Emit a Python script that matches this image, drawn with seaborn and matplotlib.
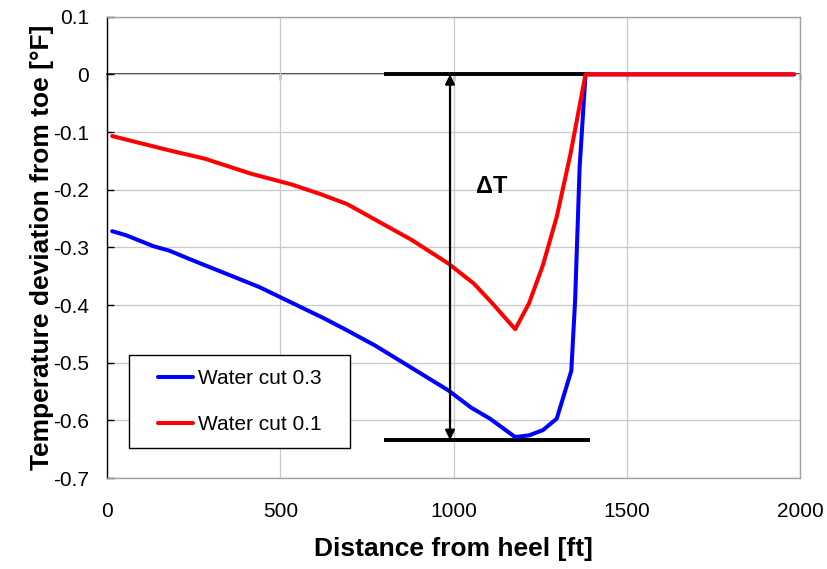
import numpy as np
import pandas as pd
import matplotlib
matplotlib.use("Agg")
import matplotlib.pyplot as plt
import matplotlib.patches as mpatches
import seaborn as sns

# ---- data ----
dist_wc03 = [15, 55, 134, 181, 241, 374, 440, 533, 626, 693, 773, 852, 985, 1051,
             1105, 1178, 1218, 1258, 1298, 1340, 1351, 1364, 1381, 1983]
temp_wc03 = [-0.272, -0.279, -0.298, -0.306, -0.321, -0.353, -0.369, -0.396, -0.423,
             -0.444, -0.470, -0.499, -0.548, -0.578, -0.597, -0.629, -0.626, -0.617,
             -0.597, -0.514, -0.392, -0.161, 0.0, 0.0]
dist_wc01 = [15, 101, 181, 281, 414, 533, 613, 693, 786, 879, 985, 1059, 1112, 1178,
             1218, 1258, 1298, 1338, 1381, 1983]
temp_wc01 = [-0.107, -0.120, -0.132, -0.146, -0.172, -0.191, -0.207, -0.225, -0.256,
             -0.287, -0.328, -0.363, -0.397, -0.442, -0.397, -0.331, -0.247, -0.137,
             0.0, 0.0]
series_labels = ["Water cut 0.3", "Water cut 0.1"]
series_colors = ["#0000FF", "#FF0000"]

# Delta T annotation values
dT_x_range = [799, 1395]
dT_top = 0.0
dT_bottom = -0.634
dT_arrow_x = 990
dT_label = "ΔT"
dT_label_pos = (1111, -0.194)

x_ticks = [0, 500, 1000, 1500, 2000]
y_ticks = [0.1, 0, -0.1, -0.2, -0.3, -0.4, -0.5, -0.6, -0.7]
y_tick_labels = ["0.1", "0", "-0.1", "-0.2", "-0.3", "-0.4", "-0.5", "-0.6", "-0.7"]

df = pd.concat([
    pd.DataFrame({"dist": dist_wc03, "temp": temp_wc03, "series": series_labels[0]}),
    pd.DataFrame({"dist": dist_wc01, "temp": temp_wc01, "series": series_labels[1]}),
], ignore_index=True)

sns.set_theme(style="white")
plt.rcParams["font.family"] = ["Liberation Sans", "DejaVu Sans"]
plt.rcParams["text.color"] = "black"
plt.rcParams["axes.labelcolor"] = "black"
plt.rcParams["xtick.color"] = "black"
plt.rcParams["ytick.color"] = "black"

fig = plt.figure(figsize=(8.27, 5.69), dpi=100)
ax = fig.add_axes([107 / 827, 1 - 478 / 569, 693 / 827, (478 - 16.7) / 569])

ax.grid(True, color="#c8c8c8", linewidth=0.9)
ax.set_axisbelow(True)

sns.lineplot(data=df, x="dist", y="temp", hue="series", hue_order=series_labels,
             palette=series_colors, sort=False, estimator=None, linewidth=2.9,
             ax=ax, legend=True, zorder=3)

ax.set_xlim(0, 2000)
ax.set_ylim(-0.7, 0.1)
ax.set_xticks(x_ticks)
ax.set_xticklabels([str(t) for t in x_ticks])
ax.set_yticks(y_ticks)
ax.set_yticklabels(y_tick_labels)

# spines
for s in ["top", "right", "bottom"]:
    ax.spines[s].set_color("#a0a0a0")
    ax.spines[s].set_linewidth(1.0)
ax.spines["left"].set_color("black")
ax.spines["left"].set_linewidth(1.0)
ax.tick_params(axis="y", direction="in", length=5, width=1, color="black",
               labelsize=15, labelcolor="black", pad=13, left=True)
ax.tick_params(axis="x", length=0, labelsize=15, labelcolor="black", pad=17)

# zero axis line with upward tick marks
sec = ax.secondary_xaxis(0.875)
sec.set_xticks(x_ticks)
sec.tick_params(direction="in", length=4, width=1, color="black", labelbottom=False,
                labeltop=False)
sec.spines["bottom"].set_color("black")
sec.spines["bottom"].set_linewidth(1.0)
sec.spines["bottom"].set_zorder(2)

ax.set_xlabel("Distance from heel [ft]", fontsize=19, fontweight="bold", labelpad=12,
              color="black")
ax.set_ylabel("Temperature deviation from toe [°F]", fontsize=19, fontweight="bold",
              labelpad=-1, color="black")

# Delta T markers
ax.plot(dT_x_range, [dT_top, dT_top], color="black", linewidth=2.8, zorder=2.5,
        solid_capstyle="butt")
ax.plot(dT_x_range, [dT_bottom, dT_bottom], color="black", linewidth=2.8, zorder=2.5,
        solid_capstyle="butt")
ax.annotate("", xy=(dT_arrow_x, dT_bottom), xytext=(dT_arrow_x, dT_top),
            arrowprops=dict(arrowstyle="<|-|>", color="black", lw=1.6,
                            mutation_scale=14, shrinkA=0, shrinkB=0), zorder=4)
ax.text(dT_label_pos[0], dT_label_pos[1], dT_label, fontsize=17, fontweight="bold",
        ha="center", va="center", color="black")

# legend box drawn as a rectangle, legend content frameless on top of it
box = mpatches.Rectangle((0.0317, 0.065), 0.3189, 0.2016, transform=ax.transAxes,
                         facecolor="white", edgecolor="black", linewidth=1.0,
                         zorder=5)
ax.add_patch(box)
leg = ax.legend(loc="center left", bbox_to_anchor=(0.0736, 0.1658), borderaxespad=0,
                frameon=False, fontsize=15, labelspacing=1.29,
                handlelength=1.68, handletextpad=0.25, borderpad=0)
leg.set_zorder(6)
leg.set_title(None)
for line in leg.get_lines():
    line.set_linewidth(2.9)
for t in leg.get_texts():
    t.set_color("black")

fig.savefig("out.png", dpi=100)
